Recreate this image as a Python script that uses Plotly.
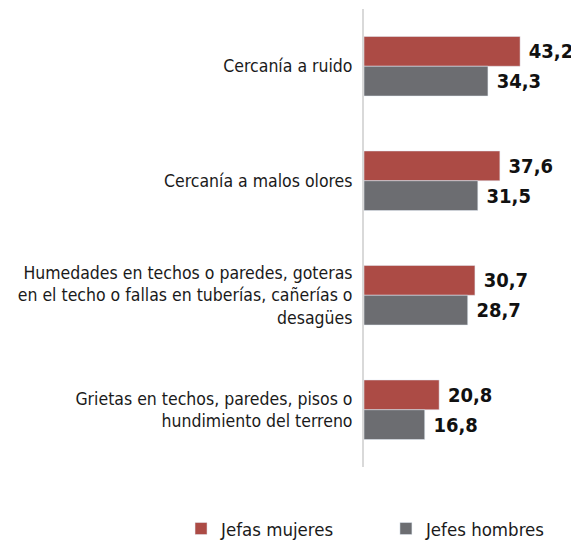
import plotly.graph_objects as go

categories = [
    "Cercanía a ruido",
    "Cercanía a malos olores",
    "Humedades en techos o paredes, goteras<br>en el techo o fallas en tuberías, cañerías o<br>desagües",
    "Grietas en techos, paredes, pisos o<br>hundimiento del terreno",
]
jefas_mujeres = [43.2, 37.6, 30.7, 20.8]
jefes_hombres = [34.3, 31.5, 28.7, 16.8]

FONT = "DejaVu Sans Condensed"


def fmt(v):
    # decimal comma, small gap before the value
    return "\u00a0<b>" + f"{v:.1f}".replace(".", ",") + "</b>"


fig = go.Figure()

fig.add_trace(go.Bar(
    y=categories,
    x=jefas_mujeres,
    name="Jefas mujeres",
    orientation="h",
    marker=dict(color="#ac4b45"),
    text=[fmt(v) for v in jefas_mujeres],
    textposition="outside",
    cliponaxis=False,
    textfont=dict(family=FONT, size=20, color="#111111"),
    legend="legend",
))

fig.add_trace(go.Bar(
    y=categories,
    x=jefes_hombres,
    name="Jefes hombres",
    orientation="h",
    marker=dict(color="#6c6d71"),
    text=[fmt(v) for v in jefes_hombres],
    textposition="outside",
    cliponaxis=False,
    textfont=dict(family=FONT, size=20, color="#111111"),
    legend="legend2",
))

legend_style = dict(
    orientation="h",
    xanchor="left",
    y=-0.135,
    yanchor="middle",
    font=dict(family=FONT, size=18.5),
    itemwidth=30,
)

# page body has an 8px margin, so the figure is shifted by 8px
fig.update_layout(
    width=571,
    height=540,
    barmode="group",
    bargap=0.48,
    bargroupgap=0,
    plot_bgcolor="white",
    paper_bgcolor="white",
    margin=dict(l=356, r=0, t=1, b=80),
    font=dict(family=FONT, size=17.5, color="#1a1a1a"),
    xaxis=dict(
        range=[0, 59.5],
        visible=False,
    ),
    yaxis=dict(
        autorange="reversed",
        automargin=False,
        showline=True,
        linecolor="#d9d9d9",
        linewidth=2,
        showgrid=False,
        ticks="",
        ticklabelstandoff=6,
        tickfont=dict(family=FONT, size=17.5, color="#1a1a1a"),
    ),
    legend=dict(x=-0.851, **legend_style),
    legend2=dict(x=0.102, **legend_style),
    showlegend=True,
)

fig.write_html("out.html")
